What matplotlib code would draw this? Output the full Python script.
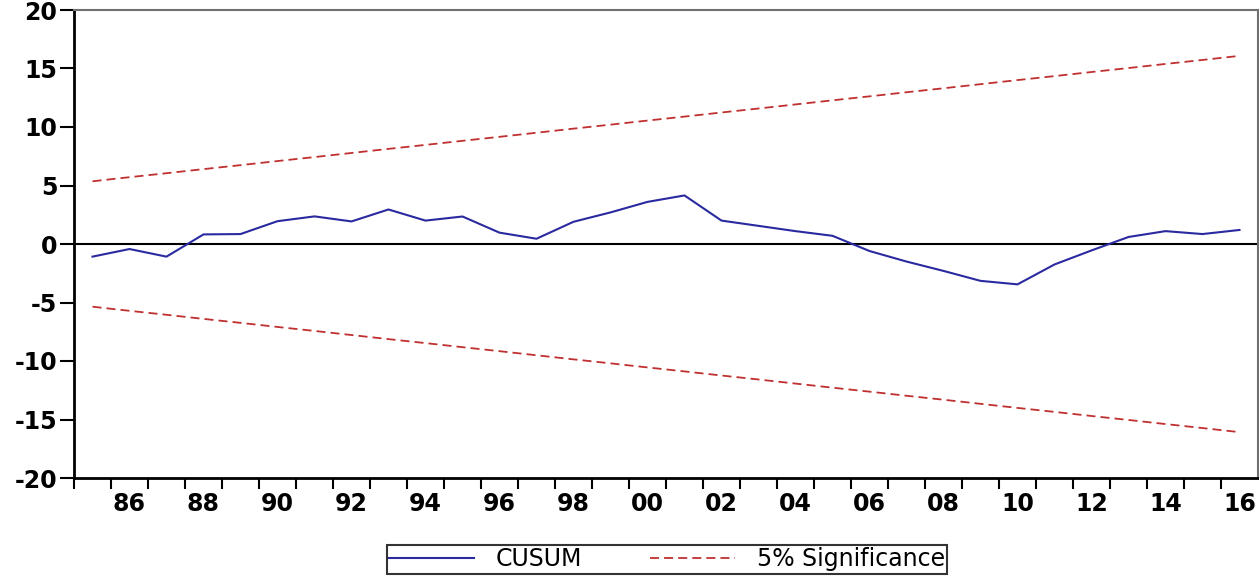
import numpy as np
import matplotlib
matplotlib.use("Agg")
import matplotlib.pyplot as plt

# CUSUM test, annual 1985-2016
years = list(range(1985, 2017))
cusum = [-1.08, -0.43, -1.08, 0.82, 0.85, 1.95, 2.36, 1.93, 2.95, 2.00,
         2.35, 0.97, 0.45, 1.90, 2.70, 3.60, 4.15, 2.00, 1.55, 1.10,
         0.70, -0.60, -1.50, -2.30, -3.15, -3.45, -1.75, -0.55, 0.60, 1.10,
         0.85, 1.20]
upper = [5.36, 5.71, 6.05, 6.40, 6.74, 7.09, 7.43, 7.78, 8.13, 8.47,
         8.82, 9.16, 9.51, 9.86, 10.20, 10.55, 10.89, 11.24, 11.58, 11.93,
         12.28, 12.62, 12.97, 13.31, 13.66, 14.01, 14.35, 14.70, 15.04, 15.39,
         15.73, 16.08]
lower = [-5.36, -5.71, -6.05, -6.40, -6.74, -7.09, -7.43, -7.78, -8.13, -8.47,
         -8.82, -9.16, -9.51, -9.86, -10.20, -10.55, -10.89, -11.24, -11.58, -11.93,
         -12.28, -12.62, -12.97, -13.31, -13.66, -14.01, -14.35, -14.70, -15.04, -15.39,
         -15.73, -16.08]
label_years = list(range(1986, 2017, 2))
x_labels = ["86", "88", "90", "92", "94", "96", "98", "00",
            "02", "04", "06", "08", "10", "12", "14", "16"]
y_ticks = [-20, -15, -10, -5, 0, 5, 10, 15, 20]

plt.rcParams["axes.unicode_minus"] = False

fig = plt.figure(figsize=(12.59, 5.76), dpi=100)
ax = fig.add_axes([74/1259, 1 - 478/576, 1184/1259, 468/576])

blue = "#2a2aa0"
red = "#c03030"

ax.axhline(0, color="black", lw=1.5, zorder=1)
ax.plot(years, cusum, color=blue, lw=1.5, label="CUSUM", zorder=3)
ax.plot(years, upper, color=red, lw=1.3, dashes=(5, 2.8), label="5% Significance", zorder=2)
ax.plot(years, lower, color=red, lw=1.3, dashes=(5, 2.8), zorder=2)

ax.set_xlim(1984.5, 2016.5)
ax.set_ylim(-20, 20)

# year-boundary ticks, labels centred on the years
ax.set_xticks(np.arange(1984.5, 2016, 1.0))
ax.set_xticklabels([])
ax.set_xticks(label_years, minor=True)
ax.set_xticklabels(x_labels, minor=True)
ax.tick_params(axis="x", which="major", direction="out", length=8, width=1.5, color="black")
ax.tick_params(axis="x", which="minor", length=0, pad=10)

ax.set_yticks(y_ticks)
ax.tick_params(axis="y", direction="out", length=10, width=1.5, pad=2)

for lab in ax.get_xticklabels(minor=True) + ax.get_yticklabels():
    lab.set_fontfamily("DejaVu Sans")
    lab.set_fontweight("bold")
    lab.set_fontsize(17)

for s in ["left", "bottom"]:
    ax.spines[s].set_color("black")
    ax.spines[s].set_linewidth(2)
for s in ["top", "right"]:
    ax.spines[s].set_color("#707070")
    ax.spines[s].set_linewidth(1.5)

leg = fig.legend(loc="upper center", bbox_to_anchor=(667/1259, 1 - 545/576),
                 ncol=2, frameon=True, fancybox=False, edgecolor="black",
                 prop={"family": "DejaVu Sans", "size": 17},
                 handlelength=3.6, handletextpad=0.9, columnspacing=2.9,
                 borderpad=0.1, borderaxespad=0)
leg.get_frame().set_linewidth(1.5)

fig.savefig("out.png", dpi=100)
